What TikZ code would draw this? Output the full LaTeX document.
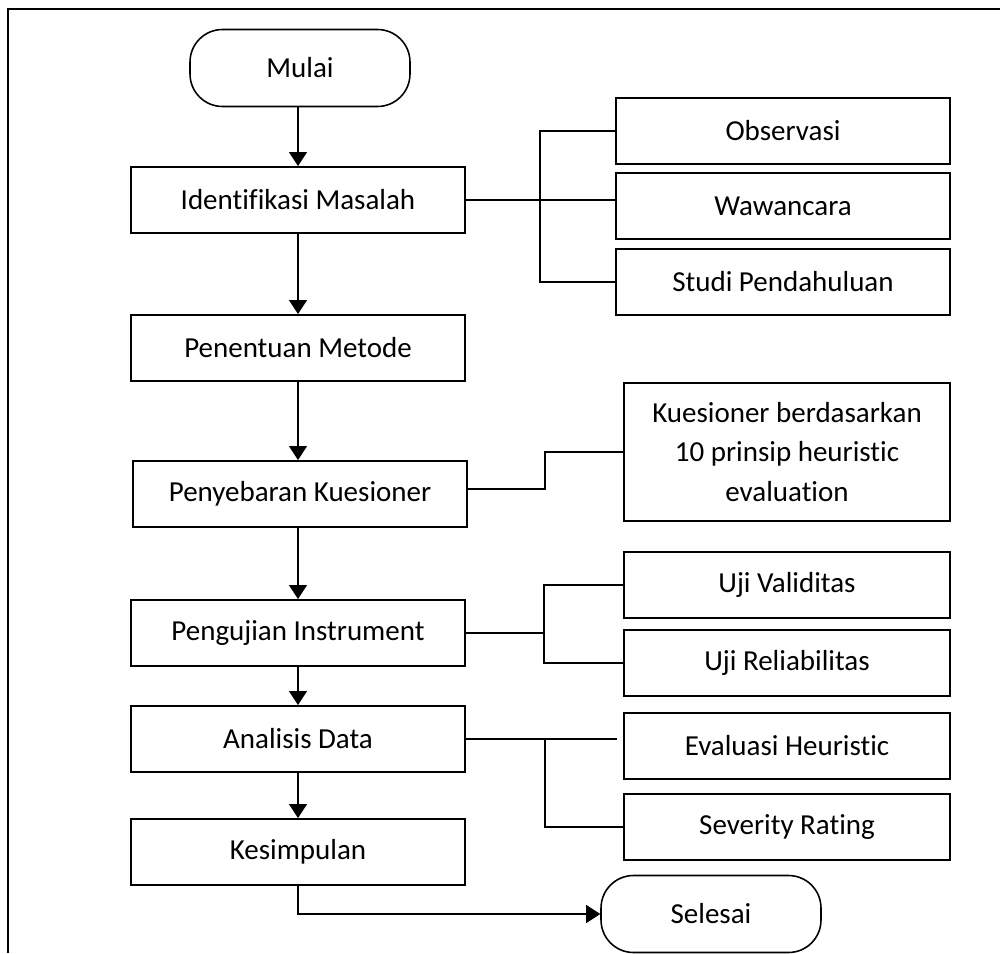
\documentclass[tikz,border=0pt]{standalone}
\usepackage{fontspec}
\setmainfont{Carlito}[Ligatures=CommonOff]
\usepackage{tikz}
\usetikzlibrary{arrows.meta,calc,positioning}

\begin{document}
\begin{tikzpicture}[x=0.02cm,y=-0.02cm,
    every node/.style={font=\fontsize{16.5}{22.7}\selectfont},
    proses/.style={draw, line width=1.1pt, minimum width=6.68cm, minimum height=1.32cm, align=center, inner sep=2pt},
    cabang/.style={proses, minimum width=6.52cm},
    terminal/.style={draw, line width=0.9pt, rounded corners=0.65cm, minimum width=4.4cm, minimum height=1.54cm},
    panah/.style={-{Triangle[length=0.28cm,width=0.36cm]}, line width=0.6pt},
    garis/.style={line width=0.6pt}]

    \useasboundingbox (0,0) rectangle (1000,953);
    \draw[line width=1.3pt] (8,953) -- (8,9) -- (1000,9);

    % alur utama
    \node[terminal] (mulai) at (300,68) {Mulai};
    \node[proses] (ident) at (298,200) {Identifikasi Masalah};
    \node[proses] (metode) at (298,348) {Penentuan Metode};
    \node[proses] (sebar) at (300,494) {Penyebaran Kuesioner};
    \node[proses] (uji) at (298,633) {Pengujian Instrument};
    \node[proses] (analisis) at (298,739) {Analisis Data};
    \node[proses] (simpul) at (298,852) {Kesimpulan};
    \node[terminal] (selesai) at (711,914) {Selesai};

    % cabang kanan
    \node[proses] (obs) at (783,131) {Observasi};
    \node[proses] (wawan) at (783,206) {Wawancara};
    \node[proses] (studi) at (783,282) {Studi Pendahuluan};
    \node[cabang, minimum height=2.76cm] (kues) at (787,452) {Kuesioner berdasarkan \\ 10 prinsip heuristic \\ evaluation};
    \node[cabang] (valid) at (787,585) {Uji Validitas};
    \node[cabang] (reliab) at (787,663) {Uji Reliabilitas};
    \node[cabang] (evalh) at (787,746) {Evaluasi Heuristic};
    \node[cabang] (sever) at (787,827) {Severity Rating};

    \coordinate (b1) at (540,200);
    \coordinate (b2) at (545,489);
    \coordinate (b3) at (544,633);
    \coordinate (b4) at (545,739);

    \draw[panah] (mulai.south -| ident.north) -- (ident.north);
    \draw[panah] (ident) -- (metode);
    \draw[panah] (metode.south) -- (metode.south |- sebar.north);
    \draw[panah] (metode.south |- sebar.south) -- (metode.south |- uji.north);
    \draw[panah] (uji) -- (analisis);
    \draw[panah] (analisis) -- (simpul);
    \draw[panah] (simpul.south) |- (selesai.west);

    \draw[garis] (ident.east) -- (ident.east -| wawan.west);
    \draw[garis] (obs.west) -| (b1) |- (studi.west);
    \draw[garis] (sebar.east |- b2) -- (b2) |- (kues.west);
    \draw[garis] (uji.east) -- (b3);
    \draw[garis] (valid.west) -| (b3) |- (reliab.west);
    \draw[garis, shorten >=0.12cm] (analisis.east) -- (analisis.east -| evalh.west);
    \draw[garis] (b4) |- (sever.west);
\end{tikzpicture}
\end{document}
